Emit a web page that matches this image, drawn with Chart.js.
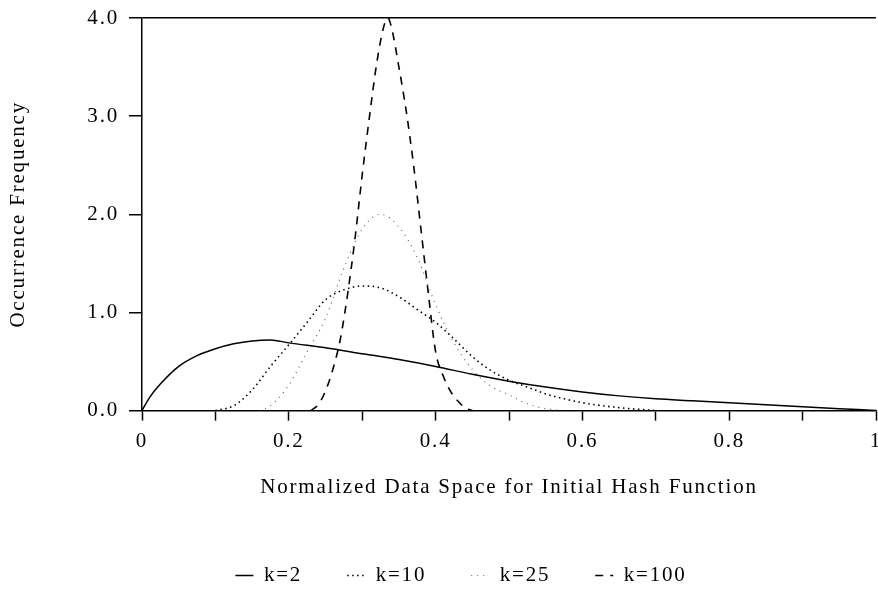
<!DOCTYPE html>
<html lang="en">
<head>
  <meta charset="UTF-8">
  <title>Occurrence Frequency</title>
  <script src="https://cdn.jsdelivr.net/npm/chart.js"></script>
  <style>
    body { margin: 0; background: #fff; }
  </style>
</head>
<body>
  <canvas id="chart" width="878" height="599"></canvas>

  <script>
    // values
    const k2X = [0, 0.01, 0.025, 0.05, 0.075, 0.1, 0.125, 0.15, 0.175, 0.2, 0.25, 0.3, 0.35, 0.4, 0.45, 0.5, 0.55, 0.6, 0.65, 0.7, 0.75, 0.8, 0.85, 0.9, 0.95, 1.0];
    const k2Y = [0, 0.13, 0.27, 0.45, 0.56, 0.63, 0.68, 0.71, 0.72, 0.69, 0.64, 0.58, 0.52, 0.45, 0.37, 0.30, 0.24, 0.19, 0.15, 0.12, 0.10, 0.08, 0.06, 0.04, 0.02, 0];

    const k10X = [0.1, 0.125, 0.15, 0.175, 0.2, 0.225, 0.25, 0.275, 0.3, 0.325, 0.35, 0.375, 0.4, 0.425, 0.45, 0.475, 0.5, 0.525, 0.55, 0.575, 0.6, 0.65, 0.7];
    const k10Y = [0, 0.05, 0.21, 0.45, 0.67, 0.90, 1.13, 1.23, 1.27, 1.25, 1.16, 1.03, 0.90, 0.73, 0.55, 0.41, 0.31, 0.24, 0.17, 0.12, 0.08, 0.03, 0];

    const k25X = [0.16, 0.175, 0.2, 0.225, 0.25, 0.275, 0.3, 0.325, 0.35, 0.375, 0.4, 0.425, 0.45, 0.475, 0.5, 0.525, 0.55, 0.575];
    const k25Y = [0, 0.05, 0.26, 0.60, 0.94, 1.45, 1.85, 2.0, 1.87, 1.56, 1.08, 0.69, 0.42, 0.25, 0.16, 0.07, 0.02, 0];

    const k100X = [0.23, 0.24, 0.25, 0.26, 0.27, 0.28, 0.29, 0.30, 0.31, 0.32, 0.33, 0.335, 0.34, 0.35, 0.36, 0.37, 0.38, 0.39, 0.40, 0.41, 0.42, 0.43, 0.44, 0.45];
    const k100Y = [0, 0.06, 0.2, 0.42, 0.72, 1.18, 1.74, 2.4, 3.0, 3.55, 3.93, 4.0, 3.9, 3.5, 3.05, 2.5, 1.85, 1.2, 0.6, 0.36, 0.2, 0.1, 0.03, 0];

    const seriesLabels = ['k=2', 'k=10', 'k=25', 'k=100'];
    const xTitle = 'Normalized Data Space for Initial Hash Function';
    const yTitle = 'Occurrence Frequency';

    const pts = (xs, ys) => xs.map((x, i) => ({ x: x, y: ys[i] }));
    const serif = { family: '"Liberation Serif", "Times New Roman", serif', size: 21 };

    // the original type is set wide, canvas letterSpacing gets close to it
    const spacing = {
      id: 'spacing',
      beforeUpdate: c => { c.ctx.letterSpacing = '1.8px'; },
      beforeDraw: c => { c.ctx.letterSpacing = '1.8px'; },
      afterLayout: c => { c.legend.left += 46; }
    };

    new Chart(document.getElementById('chart'), {
      type: 'line',
      data: {
        datasets: [
          { label: seriesLabels[0], data: pts(k2X, k2Y), borderColor: '#000', borderWidth: 1.5 },
          { label: seriesLabels[1], data: pts(k10X, k10Y), borderColor: '#000', borderWidth: 1.6, borderDash: [1.5, 3.5] },
          { label: seriesLabels[2], data: pts(k25X, k25Y), borderColor: '#666', borderWidth: 1.2, borderDash: [1, 5] },
          { label: seriesLabels[3], data: pts(k100X, k100Y), borderColor: '#000', borderWidth: 1.6, borderDash: [8, 7] }
        ]
      },
      options: {
        responsive: false,
        animation: false,
        cubicInterpolationMode: 'monotone',
        elements: { point: { radius: 0 } },
        layout: { padding: { top: 18, right: 2, left: 0, bottom: 3 } },
        plugins: {
          tooltip: { enabled: false },
          legend: {
            position: 'bottom',
            labels: {
              color: '#000',
              font: serif,
              usePointStyle: true,
              pointStyle: 'line',
              pointStyleWidth: 18,
              padding: 45,
              // point style drops the dash, put the line style back
              generateLabels: chart => Chart.defaults.plugins.legend.labels.generateLabels(chart).map((item, i) => {
                const ds = chart.data.datasets[i];
                item.lineDash = ds.borderDash || [];
                item.lineWidth = ds.borderWidth;
                item.strokeStyle = ds.borderColor;
                return item;
              })
            }
          }
        },
        scales: {
          x: {
            type: 'linear',
            min: 0,
            max: 1,
            afterFit: s => { s.paddingRight = 2; s.paddingLeft = 0; },
            border: { color: '#000', width: 1.5 },
            grid: { drawOnChartArea: false, tickLength: 10, tickColor: '#000', tickWidth: 1.5 },
            ticks: {
              stepSize: 0.1,
              autoSkip: false,
              maxRotation: 0,
              padding: 8,
              color: '#000',
              font: serif,
              callback: v => {
                const n = Math.round(v * 10);
                if (n % 2) return '';
                if (n === 0) return '0';
                if (n === 10) return '1';
                return (n / 10).toFixed(1);
              }
            },
            title: { display: true, text: xTitle, color: '#000', font: serif, padding: { top: 13, bottom: 20 } }
          },
          y: {
            min: 0,
            max: 4,
            afterFit: s => { s.width = 142; s.paddingTop = 0; s.paddingBottom = 0; },
            border: { color: '#000', width: 1.5 },
            grid: {
              color: c => (c.tick && c.tick.value === 4 ? '#000' : 'rgba(0,0,0,0)'),
              lineWidth: 1.5,
              tickLength: 13,
              tickColor: '#000',
              tickWidth: 1.5
            },
            ticks: { stepSize: 1, padding: 10, color: '#000', font: serif, callback: v => v.toFixed(1) },
            title: { display: true, text: yTitle, color: '#000', font: serif, padding: { top: 6, bottom: 0 } }
          }
        }
      },
      plugins: [spacing]
    });
  </script>
</body>
</html>
